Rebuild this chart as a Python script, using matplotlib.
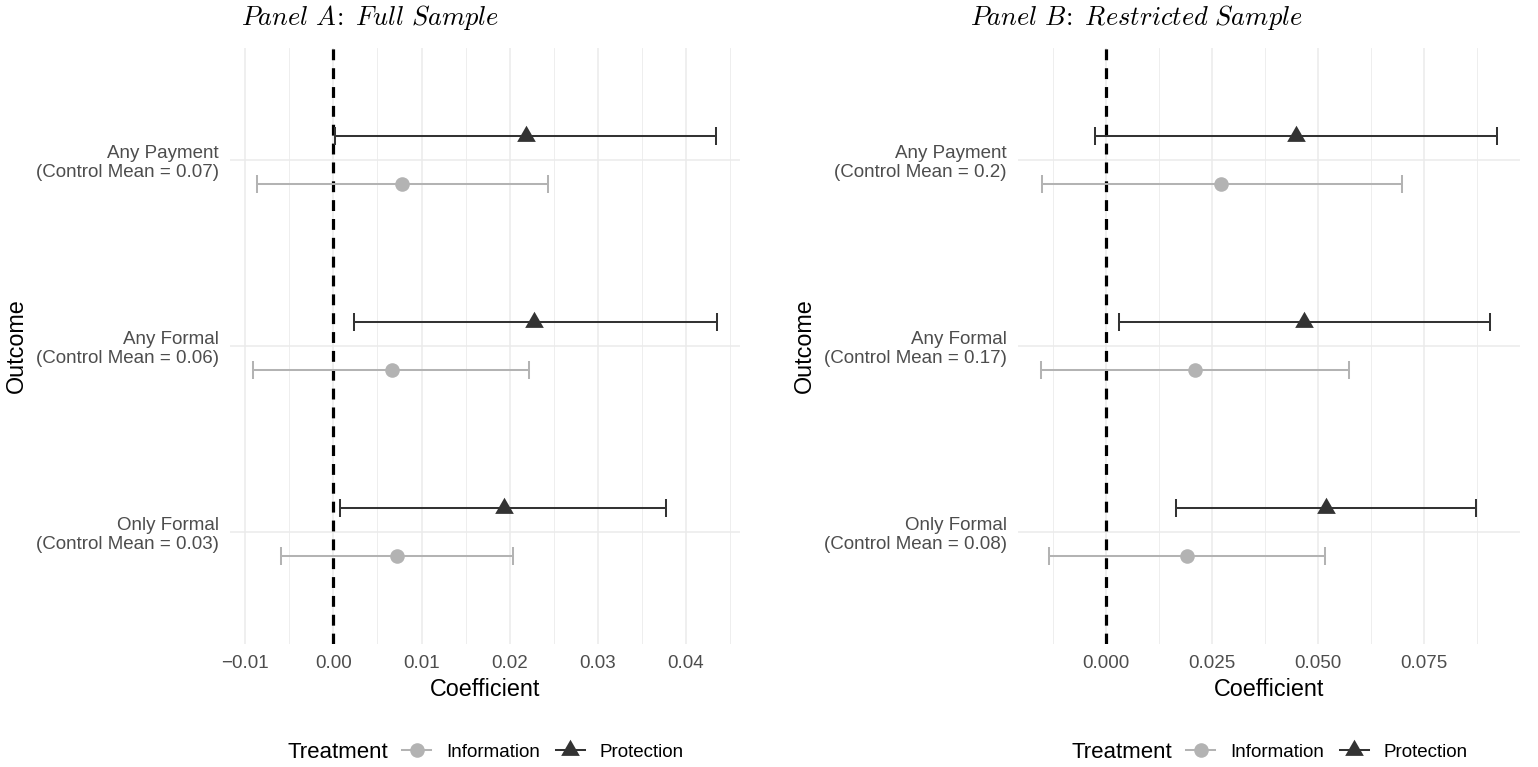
import matplotlib
matplotlib.use("Agg")
import matplotlib.pyplot as plt
from matplotlib.lines import Line2D
from matplotlib.ticker import FixedLocator, FuncFormatter
import numpy as np

plt.rcParams["font.family"] = ["Liberation Sans", "DejaVu Sans"]
plt.rcParams["mathtext.fontset"] = "cm"

# ---- data -------------------------------------------------------------
outcomes = ["Any Payment", "Any Formal", "Only Formal"]
control_means_a = ["0.07", "0.06", "0.03"]
control_means_b = ["0.2", "0.17", "0.08"]

# Panel A: full sample
prot_est_a = [0.0218, 0.0228, 0.0193]
prot_lo_a = [0.0002, 0.0023, 0.0008]
prot_hi_a = [0.0434, 0.0435, 0.0377]
info_est_a = [0.0078, 0.0066, 0.0072]
info_lo_a = [-0.0087, -0.0091, -0.0060]
info_hi_a = [0.0243, 0.0222, 0.0204]

# Panel B: restricted sample
prot_est_b = [0.0448, 0.0468, 0.0519]
prot_lo_b = [-0.0027, 0.0031, 0.0164]
prot_hi_b = [0.0923, 0.0907, 0.0874]
info_est_b = [0.0272, 0.0211, 0.0192]
info_lo_b = [-0.0152, -0.0154, -0.0134]
info_hi_b = [0.0698, 0.0574, 0.0517]

ticks_a = [-0.01, 0.00, 0.01, 0.02, 0.03, 0.04]
ticks_b = [0.000, 0.025, 0.050, 0.075]

treatments = ["Information", "Protection"]
colors = {"Information": "#B3B3B3", "Protection": "#333333"}

# ---- styling ----------------------------------------------------------
W, H = 1538, 767
fig = plt.figure(figsize=(W / 100, H / 100), dpi=100)

BASE = 16.8
SMALL = 13.5
GRID = "#EBEBEB"
TXT = "#4D4D4D"

# triangle with its centroid at the origin (as ggplot's shape 17)
tri = [(0.0, 0.577), (-0.5, -0.2887), (0.5, -0.2887), (0.0, 0.577)]


def make_fmt(decimals):
    def f(v, _pos):
        s = f"{abs(v):.{decimals}f}"
        return ("\u2212" + s) if v < -1e-12 else s
    return FuncFormatter(f)


def panel(rect, est_p, lo_p, hi_p, est_i, lo_i, hi_i, ctrl, ticks, decimals, title, title_x, ylab_x):
    ax = fig.add_axes(rect)
    ypos = np.arange(len(outcomes))[::-1].astype(float)
    dodge = 0.13

    series = {
        "Information": (est_i, lo_i, hi_i, -dodge, "o", 10.5),
        "Protection": (est_p, lo_p, hi_p, dodge, tri, 15.5),
    }
    allv = list(lo_p) + list(hi_p) + list(lo_i) + list(hi_i) + [0.0]
    lo, hi = min(allv), max(allv)
    pad = 0.05 * (hi - lo)
    ax.set_xlim(lo - pad, hi + pad)
    ax.set_ylim(-0.6, len(outcomes) - 1 + 0.6)

    # grid
    step = ticks[1] - ticks[0]
    minor = [t + step / 2 for t in [ticks[0] - step] + list(ticks)]
    ax.xaxis.set_major_locator(FixedLocator(ticks))
    ax.xaxis.set_minor_locator(FixedLocator(minor))
    ax.xaxis.set_major_formatter(make_fmt(decimals))
    ax.grid(which="major", axis="x", color=GRID, lw=1.1, zorder=0)
    ax.grid(which="minor", axis="x", color=GRID, lw=0.6, zorder=0)
    ax.set_yticks(ypos)
    ax.set_yticklabels([f"{o}\n(Control Mean = {c})" for o, c in zip(outcomes, ctrl)])
    ax.grid(which="major", axis="y", color=GRID, lw=1.1, zorder=0)

    for s in ax.spines.values():
        s.set_visible(False)
    ax.tick_params(axis="both", which="both", length=0)
    ax.tick_params(axis="x", pad=8, labelsize=SMALL, labelcolor=TXT)
    ax.tick_params(axis="y", pad=8, labelsize=SMALL, labelcolor=TXT)
    for lab in ax.get_yticklabels():
        lab.set_linespacing(1.15)

    ax.axvline(0, color="black", lw=2.3, ls=(0, (3.4, 2.5)), zorder=2)

    for name in treatments:
        est, l, h, off, mk, ms = series[name]
        est = np.asarray(est)
        xerr = np.vstack([est - np.asarray(l), np.asarray(h) - est])
        ax.errorbar(est, ypos + off, xerr=xerr, fmt="none", ecolor=colors[name],
                    elinewidth=1.45, capsize=6.5, capthick=1.45, zorder=3)
        ax.plot(est, ypos + off, ls="none", marker=mk, ms=ms, color=colors[name],
                mec="none", zorder=4)

    ax.set_xlabel("Coefficient", fontsize=BASE, labelpad=4)

    # panel title, outcome label and legend
    fig.text(title_x / W, 1 - 18 / H, title, fontsize=19, ha="center", va="center")
    fig.text(ylab_x / W, 1 - 346 / H, "Outcome", rotation=90, fontsize=BASE,
             ha="center", va="center")

    cx = (rect[0] + rect[2] / 2) * W
    leg_y = 1 - 752 / H
    fig.text((cx - 198) / W, leg_y, "Treatment", fontsize=16, ha="left", va="center")
    handles = [
        Line2D([], [], color=colors["Information"], lw=1.45, marker="o", ms=10.5, mec="none"),
        Line2D([], [], color=colors["Protection"], lw=1.45, marker=tri, ms=15.5, mec="none"),
    ]
    fig.legend(handles, treatments, loc="center left",
               bbox_to_anchor=((cx - 83) / W, leg_y), ncol=2, frameon=False,
               fontsize=SMALL, handlelength=1.55, handletextpad=0.8,
               columnspacing=0.85, borderpad=0, borderaxespad=0)
    return ax


top, bottom = 48, 644
rect_a = [230 / W, 1 - bottom / H, 510 / W, (bottom - top) / H]
rect_b = [1018 / W, 1 - bottom / H, 502 / W, (bottom - top) / H]

panel(rect_a, prot_est_a, prot_lo_a, prot_hi_a, info_est_a, info_lo_a, info_hi_a,
      control_means_a, ticks_a, 2, r"$Panel\ A\!{:}\ Full\ Sample$", 370, 16)
panel(rect_b, prot_est_b, prot_lo_b, prot_hi_b, info_est_b, info_lo_b, info_hi_b,
      control_means_b, ticks_b, 3, r"$Panel\ B\!{:}\ Restricted\ Sample$", 1136, 804)

fig.savefig("out.png", dpi=100, facecolor="white")
